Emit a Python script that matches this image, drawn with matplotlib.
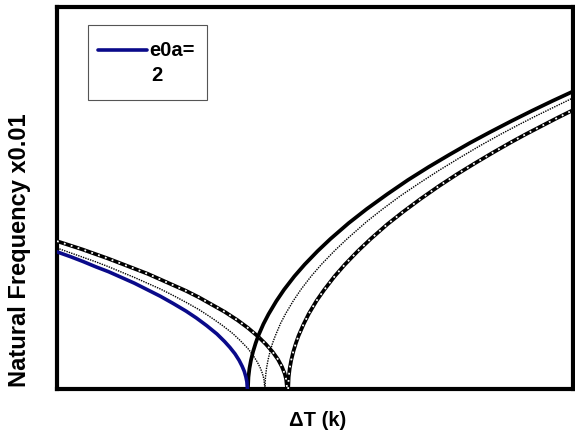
import matplotlib
matplotlib.use('Agg')
from matplotlib import pyplot as plt
from matplotlib.patches import Rectangle
import numpy as np

plt.rcParams['font.family'] = ['Liberation Sans', 'DejaVu Sans']
plt.rcParams['font.weight'] = 'bold'

# left branches (frequency falls to zero at the critical dT)
dT_blue_l = [0, 2.5, 5, 7.5, 10, 12.5, 15, 17.5, 20, 22.5, 25, 27, 29, 31, 32.5,
             33.5, 34.5, 35.3, 35.9, 36.3, 36.6, 36.8, 36.9]
w_blue_l  = [35.9, 34.7, 33.4, 32.0, 30.7, 29.2, 27.7, 26.0, 24.3, 22.4, 20.4, 18.6,
             16.6, 14.4, 12.4, 10.9, 9.2, 7.5, 5.9, 4.6, 3.2, 1.9, 0]

dT_thin_l = [0, 2.5, 5, 7.5, 10, 12.5, 15, 17.5, 20, 22.5, 25, 27.5, 30, 32, 34,
             35.5, 37, 38, 38.8, 39.4, 39.8, 40.1, 40.3]
w_thin_l  = [36.9, 35.7, 34.5, 33.3, 32.0, 30.6, 29.2, 27.7, 26.2, 24.5, 22.7, 20.8,
             18.6, 16.7, 14.6, 12.7, 10.6, 8.8, 7.1, 5.5, 4.1, 2.6, 0]

dT_thick_l = [0, 2.5, 5, 7.5, 10, 12.5, 15, 17.5, 20, 22.5, 25, 27.5, 30, 32.5, 35,
              37, 39, 40.5, 41.8, 42.8, 43.6, 44.1, 44.4, 44.6]
w_thick_l  = [38.7, 37.6, 36.5, 35.3, 34.1, 32.8, 31.5, 30.2, 28.7, 27.2, 25.7, 24.0,
              22.1, 20.2, 18.0, 16.0, 13.7, 11.7, 9.7, 7.8, 5.8, 4.1, 2.6, 0]

# right branches (frequency rises again after buckling)
dT_solid_r = [37.0, 37.1, 37.3, 37.6, 38, 38.5, 39, 40, 41, 42.5, 44, 46, 48, 50.5,
              53, 56.5, 60, 64, 68, 72, 76, 80, 84, 88, 92, 96, 100]
w_solid_r  = [0, 3.1, 5.4, 7.6, 9.8, 12.0, 13.9, 17.0, 19.6, 23.0, 26.0, 29.5, 32.6,
              36.1, 39.3, 43.4, 47.1, 51.0, 54.7, 58.1, 61.3, 64.4, 67.3, 70.1, 72.8,
              75.4, 77.9]

dT_thin_r = [40.3, 40.4, 40.6, 40.9, 41.3, 41.8, 42.3, 43.3, 44.3, 45.8, 47.3, 49.3,
             51.3, 53.8, 56.3, 60, 63, 66.5, 70, 74, 78, 82, 86, 89.5, 93, 96.5, 100]
w_thin_r  = [0, 3.1, 5.4, 7.6, 9.9, 12.1, 13.9, 17.1, 19.7, 23.1, 26.1, 29.6, 32.7,
             36.2, 39.4, 43.8, 47.0, 50.5, 53.7, 57.2, 60.5, 63.7, 66.7, 69.2, 71.6,
             73.9, 76.2]

dT_thick_r = [44.8, 44.9, 45.1, 45.4, 45.8, 46.3, 46.8, 47.8, 48.8, 50.3, 51.8, 53.8,
              55.8, 58.3, 60.8, 64, 67, 70.5, 74, 77.5, 81, 84.5, 88, 91, 94, 97, 100]
w_thick_r  = [0, 3.1, 5.4, 7.6, 9.8, 12.0, 13.9, 17.0, 19.7, 23.1, 26.0, 29.5, 32.6,
              36.1, 39.3, 43.1, 46.3, 49.8, 53.1, 56.2, 59.1, 61.9, 64.6, 66.8, 68.9,
              71.0, 73.0]

legend_label = 'e0a=\n2'

fig = plt.figure(figsize=(5.75, 4.41), dpi=100)
ax = fig.add_axes([57/575, 1-389/441, 516/575, 382/441])

# thick black with white dots
for x, y in [(dT_thick_l, w_thick_l), (dT_thick_r, w_thick_r)]:
    ax.plot(x, y, color='k', lw=2.7, solid_capstyle='butt', zorder=2)
    ax.plot(x, y, color='w', lw=1.3, linestyle=(0, (1, 3)), zorder=3)

# thin dotted
for x, y in [(dT_thin_l, w_thin_l), (dT_thin_r, w_thin_r)]:
    ax.plot(x, y, color='k', lw=1.0, linestyle=(0, (1, 0.8)), zorder=2)

ax.plot(dT_solid_r, w_solid_r, color='k', lw=2.7, zorder=4)
ax.plot(dT_blue_l, w_blue_l, color='#0a0a8a', lw=2.6, zorder=4)

ax.set_xlim(0, 100)
ax.set_ylim(0, 100)
ax.set_xticks([])
ax.set_yticks([])
for s in ax.spines.values():
    s.set_linewidth(3)

# legend box drawn by hand so the sample line sits on the first text line
ax.add_patch(Rectangle((0.060, 0.757), 0.231, 0.196, transform=ax.transAxes,
                       facecolor='w', edgecolor='#555555', lw=0.8, zorder=5))
ax.plot([0.0795, 0.174], [0.887, 0.887], transform=ax.transAxes,
        color='#0a0a8a', lw=2.6, solid_capstyle='round', zorder=6)
ax.text(0.178, 0.885, legend_label.split('\n')[0], transform=ax.transAxes,
        fontsize=14.5, fontweight='bold', ha='left', va='center', zorder=6)
ax.text(0.183, 0.820, legend_label.split('\n')[1], transform=ax.transAxes,
        fontsize=14.5, fontweight='bold', ha='left', va='center', zorder=6)

fig.text(318/575, 1-420/441, '\u0394T (k)', fontsize=14.5, fontweight='bold',
         ha='center', va='center')
fig.text(20/575, 1-250/441, 'Natural Frequency x0.01', fontsize=17,
         fontweight='bold', rotation=90, ha='center', va='center')

fig.savefig('out.png', dpi=100)
